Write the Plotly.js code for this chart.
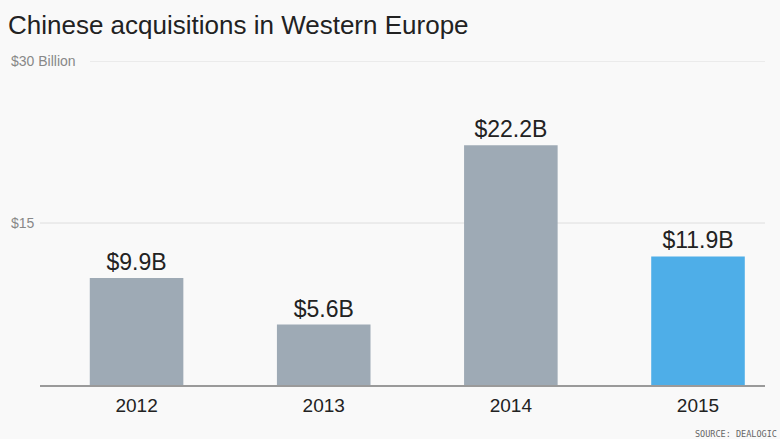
<!DOCTYPE html>
<html>
<head>
<meta charset="utf-8">
<script src="https://cdn.plot.ly/plotly-3.0.1.min.js"></script>
<style>
  html, body { margin: 0; padding: 0; background: #f9f9f9; }
  #chart { width: 780px; height: 439px; }
</style>
</head>
<body>
<div id="chart"></div>
<script>
// Data
const years = ['2012', '2013', '2014', '2015'];
const values = [9.9, 5.6, 22.2, 11.9];
const barColors = ['#9eaab5', '#9eaab5', '#9eaab5', '#4eaee8'];
const yTickValues = [15, 30];
const yTickLabels = ['$15', '$30 Billion'];

// Layout constants
const W = 780, H = 439;
const M = { l: 40, r: 15, t: 61, b: 54 };
const plotW = W - M.l - M.r;
const plotH = H - M.t - M.b;
const px2paperX = px => (px - M.l) / plotW;
const px2paperY = py => (H - M.b - py) / plotH;
const gridStartPx = [40, 90];

const trace = {
  type: 'bar',
  x: years,
  y: values,
  width: 0.5,
  marker: { color: barColors, line: { width: 0 } },
  text: values.map(v => '$' + v.toFixed(1) + 'B'),
  textposition: 'outside',
  textfont: { family: 'Liberation Sans, Arial, sans-serif', size: 23, color: '#222' },
  constraintext: 'none',
  cliponaxis: false,
  hoverinfo: 'skip'
};

const shapes = yTickValues.map((v, i) => ({
  type: 'line', xref: 'paper', yref: 'y',
  x0: px2paperX(gridStartPx[i]), x1: 1, y0: v, y1: v,
  line: { color: '#dedede', width: 1 },
  layer: 'below'
}));

const annotations = yTickValues.map((v, i) => ({
  xref: 'paper', yref: 'y', x: px2paperX(9), y: v,
  xanchor: 'left', yanchor: 'middle', showarrow: false,
  text: yTickLabels[i],
  font: { family: 'Liberation Sans, Arial, sans-serif', size: 14, color: '#888' }
}));
annotations.push({
  xref: 'paper', yref: 'paper', x: px2paperX(779), y: px2paperY(434),
  xanchor: 'right', yanchor: 'middle', showarrow: false,
  text: 'SOURCE: DEALOGIC',
  font: { family: 'DejaVu Sans Mono, monospace', size: 8.5, color: '#666' }
});

const layout = {
  width: W, height: H,
  margin: M,
  paper_bgcolor: '#f9f9f9',
  plot_bgcolor: '#f9f9f9',
  showlegend: false,
  title: {
    text: 'Chinese acquisitions in Western Europe',
    xref: 'container', yref: 'container',
    x: 8 / W, xanchor: 'left',
    y: 1 - 25 / H, yanchor: 'middle',
    font: { family: 'Liberation Sans, Arial, sans-serif', size: 26, color: '#222' }
  },
  xaxis: {
    type: 'category',
    range: [-0.516, 3.358],
    showgrid: false, zeroline: false,
    showline: true, linecolor: '#9a9a9a', linewidth: 2,
    ticks: '',
    ticklabelstandoff: 2,
    tickfont: { family: 'Liberation Sans, Arial, sans-serif', size: 19, color: '#222' },
    fixedrange: true
  },
  yaxis: {
    range: [0, 30],
    showgrid: false, zeroline: false, showline: false,
    showticklabels: false, ticks: '',
    fixedrange: true
  },
  shapes: shapes,
  annotations: annotations,
  bargap: 0.5
};

Plotly.newPlot('chart', [trace], layout, { displayModeBar: false, staticPlot: true });
</script>
</body>
</html>
